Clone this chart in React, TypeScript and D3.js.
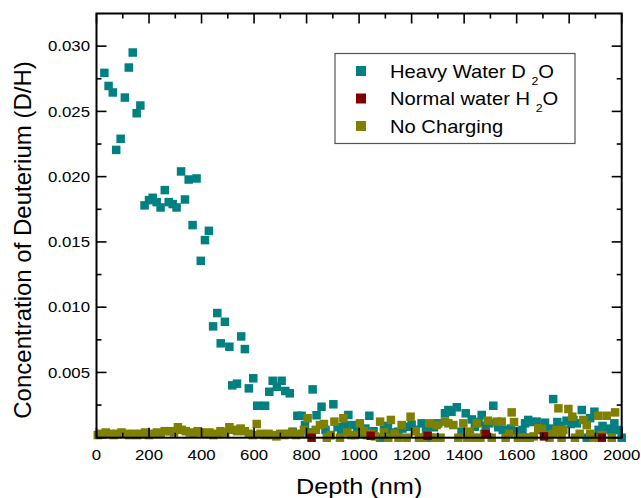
import React, { useRef, useEffect } from 'react';
import * as d3 from 'd3';

// depth (nm), concentration D/H
const heavyWater: [number, number][] = [
  [30, 0.02795], [46, 0.02695], [62, 0.02645], [75, 0.02205], [92, 0.0229], [108, 0.02606],
  [123, 0.02836], [138, 0.02951], [153, 0.02486], [167, 0.02545], [183, 0.0178], [200, 0.0182],
  [214, 0.01838], [229, 0.01805], [244, 0.01764], [260, 0.01897], [275, 0.01805], [290, 0.0179],
  [305, 0.01764], [322, 0.0204], [337, 0.01825], [351, 0.01978], [366, 0.01629], [381, 0.01986],
  [397, 0.01355], [413, 0.01514], [428, 0.01585], [444, 0.00853], [460, 0.00955], [473, 0.00723],
  [489, 0.00888], [506, 0.00697], [517, 0.00401], [535, 0.00414], [551, 0.00776], [565, 0.00679],
  [580, 0.00378], [597, 0.00455], [612, 0.00245], [642, 0.00245], [658, 0.00352], [671, 0.00436],
  [687, 0.0039], [705, 0.00436], [719, 0.00358], [736, 0.0034], [747, 0.00046], [765, 0.00168],
  [781, 0.00168], [794, 0.00097], [808, 0.0004], [823, 0.0037], [838, 0.00172], [857, 0.00237],
  [872, 0.0006], [889, 0.0002], [902, 0.00256], [918, 0.0008], [932, 0.0005], [946, 0.00097],
  [959, 0.00174], [978, 0.00097], [993, 0.0006], [1008, 0.0004], [1024, 0.0007], [1039, 0.00168],
  [1055, 0.0005], [1080, 0.0], [1095, 0.0006], [1110, 0.0009], [1125, 0.0004], [1149, 0.00046],
  [1165, 0.0007], [1187, 0.00084], [1200, 0.001], [1215, 0.0006], [1238, 0.0011], [1255, 0.0005],
  [1270, 0.0], [1285, 0.0008], [1301, 0.0011], [1327, 0.00187], [1340, 0.00212], [1352, 0.00199],
  [1372, 0.00233], [1390, 0.00046], [1406, 0.00187], [1429, 0.0014], [1441, 0.00084], [1455, 0.0012],
  [1467, 0.00174], [1482, 0.0009], [1496, 0.0011], [1511, 0.00245], [1530, 0.0008], [1547, 0.00059],
  [1562, 0.0004], [1578, 0.0007], [1595, 0.0005], [1622, 0.00059], [1632, 0.0011], [1644, 0.00136],
  [1660, 0.0012], [1676, 0.00123], [1692, 0.0006], [1708, 0.00115], [1723, 0.0007], [1739, 0.00296],
  [1755, 0.0012], [1770, 0.0009], [1790, 0.0013], [1806, 0.00105], [1816, 0.00136], [1829, 0.0011],
  [1848, 0.00212], [1867, 0.0], [1880, 0.0015], [1896, 0.00199], [1912, 0.0006], [1927, 0.0009],
  [1942, 0.0007], [1958, 0.00059], [1972, 0.0011], [1987, 0.00059], [2000, 0.0],
];

const normalWater: [number, number][] = [
  [819, 0.0], [1044, 0.00015], [1261, 0.00015], [1482, 0.00028], [1704, 0.0001], [1924, 0.0],
];

const noCharging: [number, number][] = [
  [5, 0.0002], [20, 0.0003], [35, 0.0004], [50, 0.0003], [65, 0.0002], [80, 0.0003], [95, 0.0004],
  [110, 0.0003], [125, 0.0002], [140, 0.0003], [155, 0.0002], [170, 0.0003], [185, 0.0004], [200, 0.0002],
  [215, 0.0003], [230, 0.0004], [245, 0.0003], [260, 0.0005], [280, 0.0005], [295, 0.0004], [310, 0.0008],
  [325, 0.0006], [340, 0.0005], [355, 0.0004], [370, 0.0003], [385, 0.0005], [400, 0.0004], [415, 0.0003],
  [430, 0.0004], [445, 0.0002], [460, 0.0003], [472, 0.0005], [490, 0.0004], [506, 0.0008], [520, 0.0006],
  [535, 0.0005], [549, 0.0007], [565, 0.0005], [580, 0.0003], [595, 0.0002], [610, 0.00105], [625, 0.0003],
  [640, 0.0002], [655, 0.0003], [670, 0.0002], [685, 0.0001], [700, 0.0003], [715, 0.0002], [730, 0.0003],
  [745, 0.0004], [760, 0.0002], [775, 0.0003], [790, 0.0006], [804, 0.00149], [819, 0.0003], [835, 0.0006],
  [851, 0.00097], [866, 0.00105], [877, 0.0], [892, 0.0002], [906, 0.00123], [927, 0.0], [940, 0.00149],
  [955, 0.0004], [970, 0.0002], [984, 0.0002], [1003, 0.0011], [1018, 0.0005], [1030, 0.0002], [1045, 0.0003],
  [1060, 0.0001], [1080, 0.00123], [1095, 0.0004], [1111, 0.0], [1121, 0.00136], [1135, 0.0003], [1150, 0.0],
  [1162, 0.00097], [1181, 0.0], [1196, 0.00161], [1213, 0.0005], [1228, 0.0], [1245, 0.0], [1258, 0.0002],
  [1270, 0.0011], [1285, 0.0], [1295, 0.00097], [1310, 0.0], [1327, 0.00123], [1340, 0.0011], [1359, 0.00097],
  [1378, 0.0], [1397, 0.0011], [1412, 0.0], [1422, 0.00046], [1436, 0.0], [1448, 0.0011], [1462, 0.0],
  [1476, 0.0003], [1490, 0.0013], [1505, 0.0], [1524, 0.00123], [1543, 0.00123], [1558, 0.0], [1571, 0.0003],
  [1581, 0.00194], [1590, 0.0012], [1605, 0.0], [1620, 0.0], [1635, 0.0], [1650, 0.0], [1665, 0.0001],
  [1682, 0.00072], [1696, 0.00067], [1712, 0.0002], [1725, 0.0], [1740, 0.0003], [1752, 0.00059],
  [1759, 0.00225], [1771, 0.0], [1778, 0.00059], [1797, 0.0022], [1812, 0.00161], [1822, 0.0], [1840, 0.0003],
  [1854, 0.00136], [1867, 0.00097], [1880, 0.0003], [1892, 0.0], [1911, 0.00168], [1925, 0.0002],
  [1943, 0.00168], [1962, 0.0], [1975, 0.00194],
];

const xTicks = [0, 200, 400, 600, 800, 1000, 1200, 1400, 1600, 1800, 2000];
const yTicks = [0.005, 0.01, 0.015, 0.02, 0.025, 0.03];

const series = [
  { name: 'Heavy Water D', sub: '2', tail: 'O', color: '#008080', data: heavyWater },
  { name: 'Normal water H', sub: '2', tail: 'O', color: '#800000', data: normalWater },
  { name: 'No Charging', sub: '', tail: '', color: '#808000', data: noCharging },
];

const W = 641, H = 498;
const FONT = "Arial, 'Liberation Sans', sans-serif";

const App = () => {
  const ref = useRef<SVGSVGElement>(null);

  useEffect(() => {
    const svg = d3.select(ref.current);
    svg.selectAll('*').remove();

    const x = d3.scaleLinear().domain([0, 2000]).range([96.5, 621.7]);
    const y = d3.scaleLinear().domain([0, 0.0325]).range([437.7, 13.5]);
    const [x0, x1] = x.range();
    const [yb, yt] = y.range();

    // points: teal, then olive, then red on top
    const size = 8.5;
    const drawOrder = [series[0], series[2], series[1]];
    drawOrder.forEach(s => {
      svg.append('g').selectAll('rect')
        .data(s.data)
        .enter().append('rect')
          .attr('x', d => x(d[0]) - size / 2)
          .attr('y', d => y(d[1]) - size / 2)
          .attr('width', size)
          .attr('height', size)
          .attr('fill', s.color);
    });

    // frame
    svg.append('rect')
      .attr('x', x0).attr('y', yt)
      .attr('width', x1 - x0).attr('height', yb - yt)
      .attr('fill', 'none').attr('stroke', '#000').attr('stroke-width', 2);

    // ticks, all pointing inward
    const ax = svg.append('g').attr('stroke', '#000').attr('stroke-width', 1.6);
    d3.range(0, 2001, 100).forEach(v => {
      const len = v % 200 === 0 ? 10 : 5;
      ax.append('line').attr('x1', x(v)).attr('x2', x(v)).attr('y1', yt).attr('y2', yt + len);
      ax.append('line').attr('x1', x(v)).attr('x2', x(v)).attr('y1', yb).attr('y2', yb - len);
    });
    d3.range(0, 13).forEach(i => {
      const v = i * 0.0025;
      const len = i % 2 === 0 ? 10 : 5;
      ax.append('line').attr('x1', x0).attr('x2', x0 + len).attr('y1', y(v)).attr('y2', y(v));
      ax.append('line').attr('x1', x1).attr('x2', x1 - len).attr('y1', y(v)).attr('y2', y(v));
    });

    // tick labels (source text is slightly stretched horizontally)
    const sx = 1.12;
    xTicks.forEach(v => {
      svg.append('text')
        .attr('transform', `translate(${x(v)},460) scale(${sx},1)`)
        .attr('text-anchor', 'middle')
        .attr('font-family', FONT).attr('font-size', 15)
        .text(String(v));
    });
    yTicks.forEach(v => {
      svg.append('text')
        .attr('transform', `translate(90,${y(v) + 5.3}) scale(${sx},1)`)
        .attr('text-anchor', 'end')
        .attr('font-family', FONT).attr('font-size', 15)
        .text(d3.format('.3f')(v));
    });

    // axis titles
    svg.append('text')
      .attr('transform', `translate(${(x0 + x1) / 2},494) scale(1.15,1)`)
      .attr('text-anchor', 'middle')
      .attr('font-family', FONT).attr('font-size', 22)
      .text('Depth (nm)');
    svg.append('text')
      .attr('transform', 'translate(31,240) rotate(-90)')
      .attr('text-anchor', 'middle')
      .attr('font-family', FONT).attr('font-size', 24)
      .text('Concentration of Deuterium (D/H)');

    // legend
    const lg = svg.append('g');
    lg.append('rect')
      .attr('x', 335).attr('y', 53.5).attr('width', 240).attr('height', 90)
      .attr('fill', '#fff').attr('stroke', '#555').attr('stroke-width', 1.2);
    const rowY = [71, 98.5, 126];
    series.forEach((s, i) => {
      lg.append('rect')
        .attr('x', 356).attr('y', rowY[i] - 5).attr('width', 10).attr('height', 10)
        .attr('fill', s.color);
      const t = lg.append('text')
        .attr('transform', `translate(390,${rowY[i] + 6.5}) scale(${sx},1)`)
        .attr('font-family', FONT).attr('font-size', 18);
      t.append('tspan').text(s.sub ? s.name + '\u00a0' : s.name);
      if (s.sub) {
        t.append('tspan').attr('font-size', 11).attr('dy', 7).text(s.sub);
        t.append('tspan').attr('dy', -7).text(s.tail);
      }
    });
  }, []);

  return (
    <svg ref={ref} width={W} height={H}
      style={{ position: 'absolute', left: 0, top: 0, background: '#fff' }} />
  );
};

export default App;
